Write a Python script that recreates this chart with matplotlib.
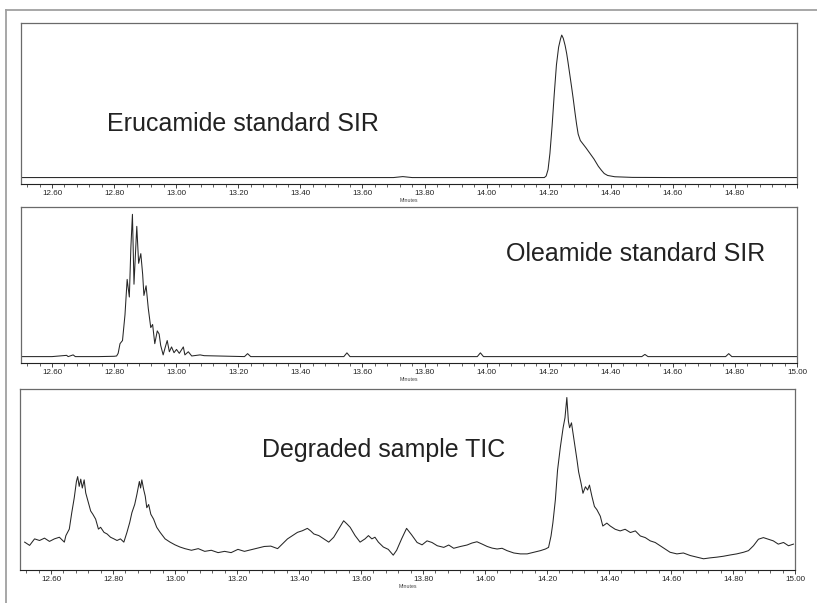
import matplotlib
matplotlib.use("Agg")
import matplotlib.pyplot as plt
from matplotlib.lines import Line2D
from matplotlib.ticker import MultipleLocator

plt.rcParams['font.family'] = ['Liberation Sans', 'DejaVu Sans']

# ---------------- data (time in minutes, intensity in % of panel height) ----------------
eru_time = [12.50, 13.00, 13.50, 13.70, 13.73, 13.76, 14.186, 14.192, 14.198, 14.204,
            14.211, 14.218, 14.225, 14.232, 14.238, 14.242, 14.247, 14.253, 14.258, 14.262,
            14.268, 14.274, 14.279, 14.285, 14.290, 14.295, 14.302, 14.310, 14.320, 14.333,
            14.346, 14.360, 14.370, 14.379, 14.390, 14.413, 14.470, 14.600, 15.00]
eru_int = [4.0, 4.0, 4.0, 4.0, 4.6, 4.0, 4.0, 5.0, 9.0, 19.0,
           36.0, 56.0, 74.0, 85.0, 90.0, 92.5, 90.5, 86.0, 81.0, 76.0,
           68.0, 60.0, 53.0, 44.0, 37.0, 31.0, 27.0, 25.0, 22.5, 19.0,
           15.5, 11.0, 8.5, 6.5, 5.3, 4.5, 4.1, 4.0, 4.0]

ole_time = [12.50, 12.60, 12.647, 12.652, 12.668, 12.675, 12.75, 12.80, 12.808, 12.813,
            12.819, 12.827, 12.835, 12.842, 12.849, 12.854, 12.859, 12.864, 12.873, 12.879,
            12.886, 12.892, 12.896, 12.903, 12.910, 12.918, 12.924, 12.931, 12.939, 12.945,
            12.950, 12.958, 12.965, 12.971, 12.978, 12.985, 12.993, 13.001, 13.010, 13.023,
            13.028, 13.039, 13.050, 13.077, 13.09, 13.22, 13.23, 13.24, 13.54, 13.55,
            13.56, 13.97, 13.98, 13.99, 14.50, 14.51, 14.52, 14.77, 14.78, 14.79, 15.00]
ole_int = [4.1, 4.1, 4.9, 4.1, 5.2, 4.1, 4.1, 4.3, 4.5, 6.2,
           12.4, 14.4, 30.9, 53.6, 42.3, 74.2, 95.3, 50.5, 87.6, 63.9,
           70.1, 56.7, 43.3, 49.5, 35.1, 22.7, 24.7, 12.4, 20.6, 18.6,
           11.3, 5.2, 10.3, 14.4, 7.2, 10.3, 6.6, 8.7, 6.2, 10.3,
           5.2, 7.2, 4.5, 5.2, 4.7, 4.1, 6.0, 4.1, 4.1, 6.5,
           4.1, 4.1, 6.5, 4.1, 4.1, 5.5, 4.1, 4.1, 6.0, 4.1, 4.1]

tic_time = [12.515, 12.531, 12.547, 12.563, 12.579, 12.595, 12.611, 12.627, 12.643, 12.648,
            12.659, 12.667, 12.675, 12.682, 12.686, 12.691, 12.696, 12.701, 12.707, 12.712,
            12.721, 12.728, 12.735, 12.744, 12.753, 12.760, 12.771, 12.781, 12.792, 12.803,
            12.813, 12.824, 12.835, 12.845, 12.854, 12.861, 12.870, 12.877, 12.885, 12.889,
            12.893, 12.899, 12.904, 12.909, 12.915, 12.922, 12.931, 12.941, 12.952, 12.968,
            12.984, 13.000, 13.016, 13.032, 13.053, 13.075, 13.096, 13.117, 13.139, 13.160,
            13.181, 13.203, 13.224, 13.245, 13.267, 13.288, 13.309, 13.331, 13.347, 13.363,
            13.379, 13.395, 13.411, 13.427, 13.437, 13.448, 13.464, 13.480, 13.496, 13.512,
            13.528, 13.544, 13.555, 13.565, 13.581, 13.597, 13.613, 13.624, 13.635, 13.645,
            13.656, 13.672, 13.688, 13.704, 13.715, 13.731, 13.747, 13.763, 13.781, 13.797,
            13.813, 13.829, 13.846, 13.867, 13.883, 13.899, 13.921, 13.942, 13.958, 13.974,
            13.991, 14.007, 14.023, 14.039, 14.055, 14.071, 14.093, 14.114, 14.136, 14.157,
            14.179, 14.195, 14.205, 14.213, 14.219, 14.227, 14.234, 14.243, 14.252, 14.258,
            14.264, 14.269, 14.273, 14.279, 14.286, 14.291, 14.297, 14.302, 14.310, 14.316,
            14.324, 14.331, 14.337, 14.345, 14.353, 14.361, 14.372, 14.380, 14.393, 14.404,
            14.420, 14.436, 14.452, 14.469, 14.485, 14.501, 14.517, 14.533, 14.549, 14.565,
            14.581, 14.597, 14.619, 14.640, 14.662, 14.683, 14.705, 14.726, 14.748, 14.769,
            14.791, 14.812, 14.834, 14.850, 14.866, 14.882, 14.898, 14.914, 14.930, 14.946,
            14.963, 14.979, 14.995]
tic_int = [15.4, 13.6, 17.2, 16.3, 17.6, 15.8, 17.2, 18.1, 15.4, 19.0,
           22.6, 31.7, 39.9, 48.9, 51.6, 46.2, 50.2, 45.3, 49.8, 42.6,
           37.1, 32.6, 30.8, 28.1, 22.6, 23.6, 20.8, 19.9, 18.1, 17.2,
           16.3, 17.2, 15.4, 20.8, 26.3, 31.7, 36.2, 41.7, 48.9, 45.3,
           49.8, 44.4, 40.8, 34.4, 36.2, 30.8, 28.1, 23.6, 20.8, 17.2,
           15.4, 13.9, 12.7, 11.8, 10.9, 11.8, 10.3, 10.9, 9.6, 10.3,
           9.6, 11.4, 10.3, 11.2, 12.1, 13.0, 13.2, 11.8, 14.5, 17.2,
           19.0, 20.8, 21.7, 23.0, 21.7, 19.9, 19.0, 17.2, 15.4, 18.1,
           22.6, 27.2, 25.4, 23.6, 19.0, 15.4, 17.2, 19.0, 17.2, 18.1,
           15.4, 12.7, 11.4, 8.2, 10.9, 17.2, 23.0, 19.5, 15.2, 13.9,
           16.1, 15.2, 13.4, 12.5, 13.8, 12.0, 13.0, 13.8, 14.9, 15.6,
           14.3, 13.0, 12.1, 11.6, 12.0, 10.7, 9.4, 8.9, 8.9, 9.8,
           10.7, 11.6, 12.5, 18.8, 26.1, 38.8, 55.1, 67.8, 78.6, 84.1,
           95.3, 82.2, 78.6, 81.3, 73.2, 67.8, 60.5, 54.2, 47.8, 42.4,
           46.0, 44.2, 46.9, 40.6, 35.1, 33.3, 29.7, 24.3, 25.9, 24.3,
           22.5, 21.6, 22.5, 20.7, 21.6, 18.8, 17.9, 16.1, 15.2, 13.4,
           11.6, 9.8, 8.9, 9.4, 8.0, 7.1, 6.2, 6.7, 7.1, 7.6,
           8.3, 8.9, 9.8, 10.7, 13.4, 17.0, 17.9, 17.0, 16.1, 14.3,
           15.2, 13.4, 14.3]

tick_major = [12.6, 12.8, 13.0, 13.2, 13.4, 13.6, 13.8, 14.0, 14.2, 14.4, 14.6, 14.8, 15.0]
titles = ["Erucamide standard SIR", "Oleamide standard SIR", "Degraded sample TIC"]

# ---------------- figure ----------------
W, H = 817, 603
fig = plt.figure(figsize=(W / 100, H / 100), dpi=100)
fig.patch.set_facecolor('white')

def rect(x0, x1, ytop, ybot):
    return [x0 / W, 1 - ybot / H, (x1 - x0) / W, (ybot - ytop) / H]

# outer grey frame
fig.add_artist(Line2D([6 / W, 1.0], [1 - 10 / H, 1 - 10 / H], color='#a0a0a0', lw=1.3))
fig.add_artist(Line2D([6 / W, 6 / W], [1 - 10 / H, 0.0], color='#a0a0a0', lw=1.3))

panels = [
    (rect(21, 797, 23, 184), eru_time, eru_int, titles[0], (107, 0.373, 'left'), False),
    (rect(21, 797, 207, 363), ole_time, ole_int, titles[1], (765, 0.70, 'right'), True),
    (rect(20, 795, 389, 570), tic_time, tic_int, titles[2], (262, 0.665, 'left'), True),
]

for pos, t, y, title, (tx, ty, ha), show_last in panels:
    ax = fig.add_axes(pos)
    ax.plot(t, y, color='#262626', lw=0.75)
    ax.set_xlim(12.5, 15.0)
    ax.set_ylim(0, 100)
    ax.set_yticks([])
    labels = ['%.2f' % v for v in tick_major]
    if not show_last:
        labels[-1] = ''
    ax.set_xticks(tick_major)
    ax.set_xticklabels(labels)
    ax.xaxis.set_minor_locator(MultipleLocator(0.04))
    ax.tick_params(axis='x', which='major', direction='out', length=3, width=0.6,
                   labelsize=5.8, pad=1.5, colors='#222222')
    ax.tick_params(axis='x', which='minor', direction='out', length=2, width=0.5,
                   colors='#222222')
    for s in ['left', 'top', 'right']:
        ax.spines[s].set_color('#6a6a6a')
        ax.spines[s].set_linewidth(0.9)
    ax.spines['bottom'].set_color('#222222')
    ax.spines['bottom'].set_linewidth(0.8)
    ax.set_xlabel('Minutes', fontsize=3.8, labelpad=0.5, color='#444444')
    x0 = pos[0] * W
    wpx = pos[2] * W
    ax.text((tx - x0) / wpx, ty, title, transform=ax.transAxes, fontsize=18,
            ha=ha, va='center', color='#222222')

fig.savefig('out.png', dpi=100)
